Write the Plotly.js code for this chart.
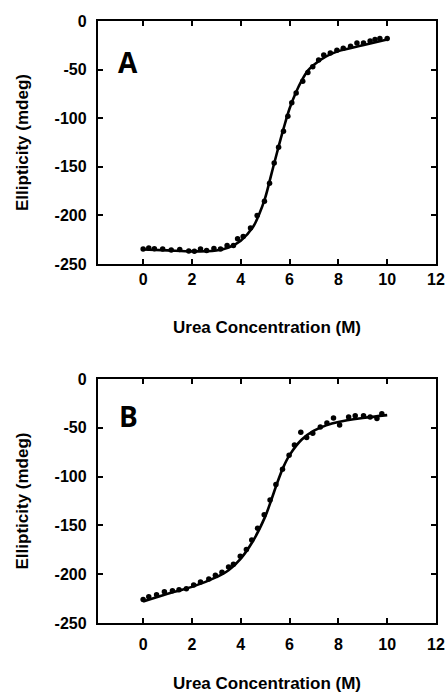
<!DOCTYPE html>
<html>
<head>
<meta charset="utf-8">
<script src="https://cdn.plot.ly/plotly-3.0.1.min.js"></script>
<style>html,body{margin:0;padding:0;background:#fff;}#chart{width:446px;height:693px;}</style>
</head>
<body>
<div id="chart"></div>
<script>
// Panel A: measured points
const aX = [0, 0.23, 0.46, 0.8, 1.15, 1.5, 1.87, 2.1, 2.35, 2.6, 2.9, 3.17, 3.44, 3.7, 3.87, 4.1, 4.4, 4.67, 4.97, 5.18, 5.37, 5.55, 5.75, 5.93, 6.09, 6.27, 6.54, 6.75, 6.95, 7.19, 7.4, 7.67, 7.94, 8.2, 8.5, 8.76, 9.03, 9.3, 9.5, 9.7, 10];
const aY = [-234.6, -233.6, -234.2, -234.5, -235.5, -235, -236.5, -236.8, -234.6, -236, -234, -234.6, -231, -231, -224, -221.6, -213, -200, -185.5, -167, -146, -130, -113.5, -98, -84, -74, -62, -53, -47, -40, -35, -33, -30, -28, -26, -22.6, -22.6, -20.5, -19, -18, -18];
// Panel A: fitted curve
const aFitX = [0, 1, 2, 3, 3.5, 4, 4.5, 4.75, 5, 5.25, 5.5, 5.75, 6, 6.25, 6.5, 6.75, 7, 7.5, 8, 9, 10];
const aFitY = [-235, -236, -237, -236, -233, -226, -212, -199, -182, -158, -134, -111, -90, -74, -61, -51, -45, -36.5, -31, -25, -19];

// Panel B: measured points
const bX = [0, 0.23, 0.55, 0.87, 1.2, 1.47, 1.77, 2.07, 2.35, 2.69, 2.96, 3.23, 3.5, 3.7, 3.98, 4.23, 4.45, 4.69, 4.96, 5.2, 5.44, 5.71, 5.98, 6.2, 6.46, 6.7, 6.95, 7.26, 7.53, 7.8, 8.05, 8.42, 8.69, 9.03, 9.3, 9.58, 9.78];
const bY = [-226, -223, -221, -218, -217, -216, -215, -211, -208, -205, -201, -198, -192.5, -189.7, -181.5, -174.7, -165, -153, -139, -124, -108, -92.5, -78, -67.6, -54.6, -60, -55.7, -49.3, -45.2, -40, -47, -39, -37.7, -37.7, -39, -40.4, -35.6];
// Panel B: fitted curve
const bFitX = [0, 1, 2, 3, 3.5, 4, 4.5, 5, 5.25, 5.5, 5.75, 6, 6.5, 7, 7.5, 8, 9, 10];
const bFitY = [-228, -220, -213, -203, -196, -184, -166, -141, -124, -106, -90, -78, -62, -53, -47.5, -44, -40, -37];

const xTicks = [0, 2, 4, 6, 8, 10, 12];
const yTicks = [-250, -200, -150, -100, -50, 0];
const xTitle = "Urea Concentration (M)";
const yTitle = "Ellipticity (mdeg)";
const panelLabels = ["A", "B"];

const tickFont = {family: "Liberation Sans, Arial, sans-serif", size: 16, color: "#000", weight: 700};
const titleFont = {family: "Liberation Sans, Arial, sans-serif", size: 17, color: "#000", weight: 700};
const letterFont = {family: "Open Sans, sans-serif", size: 28, color: "#000", weight: 700};

function pts(x, y, xa, ya) {
  return {x: x, y: y, xaxis: xa, yaxis: ya, type: "scatter", mode: "markers",
    marker: {color: "#000", size: 5.5}, hoverinfo: "skip", showlegend: false};
}
function fit(x, y, xa, ya) {
  return {x: x, y: y, xaxis: xa, yaxis: ya, type: "scatter", mode: "lines",
    line: {color: "#000", width: 2.6, shape: "spline", smoothing: 1}, hoverinfo: "skip", showlegend: false};
}

const data = [
  fit(aFitX, aFitY, "x", "y"), pts(aX, aY, "x", "y"),
  fit(bFitX, bFitY, "x2", "y2"), pts(bX, bY, "x2", "y2")
];

function xax(anchor, standoffLabels) {
  return {anchor: anchor, range: [-1.85, 12], tickvals: xTicks, ticktext: xTicks.map(v => "<b>" + v + "</b>"),
    ticks: "inside", ticklen: 5, tickwidth: 2, tickcolor: "#000",
    showline: true, linewidth: 2.2, linecolor: "#000", mirror: "ticks",
    showgrid: false, zeroline: false, tickfont: tickFont, ticklabelstandoff: standoffLabels,
    title: {text: xTitle, font: titleFont, standoff: 34}};
}
function yax(anchor, domain) {
  return {anchor: anchor, domain: domain, range: [-250, 0], tickvals: yTicks, ticktext: yTicks.map(v => "<b>" + v + "</b>"),
    ticks: "inside", ticklen: 5, tickwidth: 2, tickcolor: "#000",
    showline: true, linewidth: 2.2, linecolor: "#000", mirror: "ticks",
    showgrid: false, zeroline: false, tickfont: tickFont, ticklabelstandoff: 6,
    title: {text: yTitle, font: titleFont, standoff: 22}};
}

const layout = {
  width: 446, height: 693,
  margin: {l: 98, r: 10, t: 21, b: 70},
  paper_bgcolor: "#fff", plot_bgcolor: "#fff",
  xaxis: xax("y", 0),
  yaxis: yax("x", [0.5963, 1]),
  xaxis2: xax("y2", 6),
  yaxis2: yax("x2", [0, 0.4053]),
  annotations: [
    {text: panelLabels[0], xref: "x", yref: "y", x: -0.62, y: -42, showarrow: false, font: letterFont},
    {text: panelLabels[1], xref: "x2", yref: "y2", x: -0.62, y: -38, showarrow: false, font: letterFont}
  ]
};

Plotly.newPlot("chart", data, layout, {displayModeBar: false, staticPlot: true});
</script>
</body>
</html>
